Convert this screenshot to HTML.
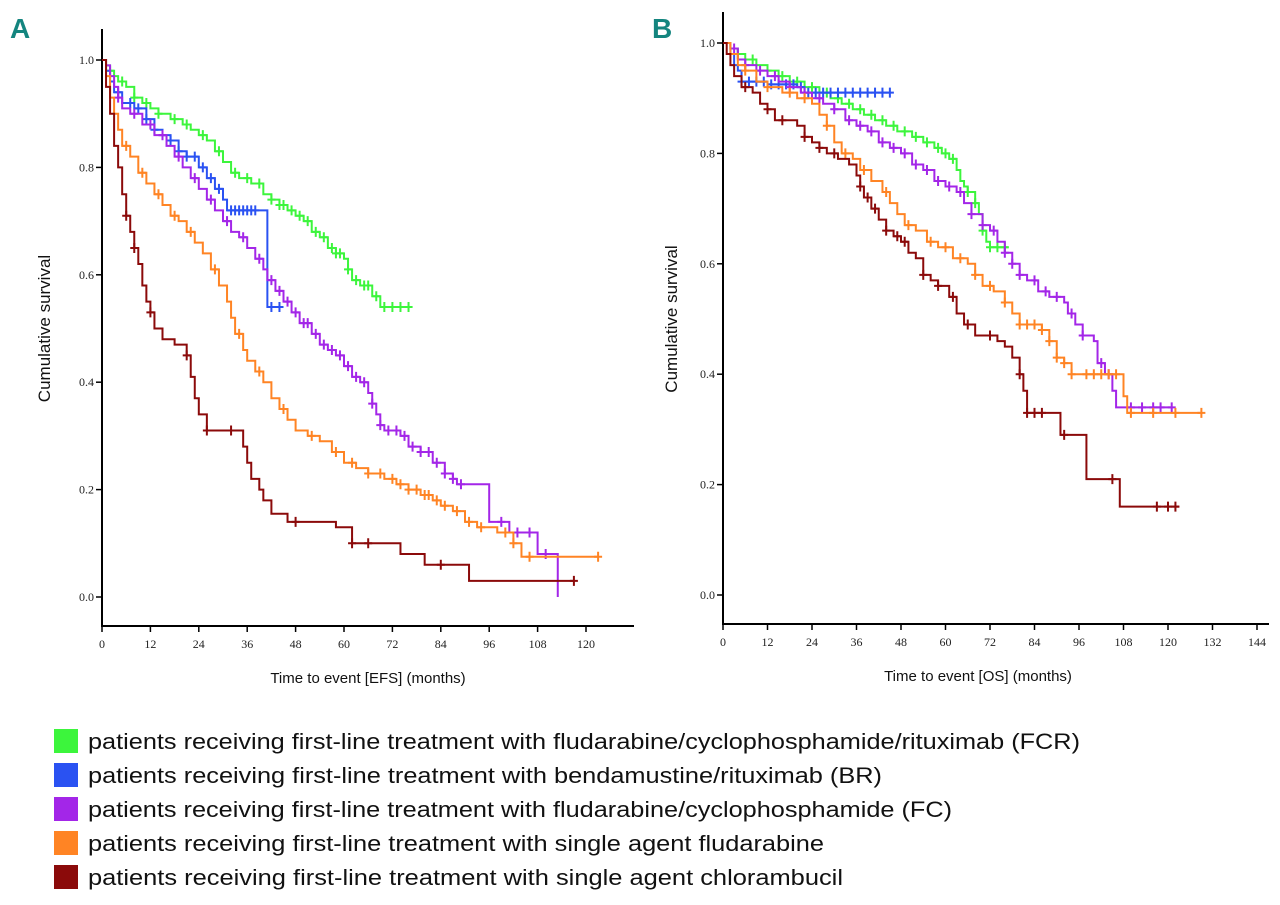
<!DOCTYPE html>
<html><head><meta charset="utf-8"><style>
html,body{margin:0;padding:0;background:#fff;}
svg{display:block;font-family:"Liberation Sans",sans-serif;}
</style></head><body>
<svg id="fig" width="1280" height="905" viewBox="0 0 1280 905" xmlns="http://www.w3.org/2000/svg">
<text x="10" y="38" font-size="28" font-weight="bold" fill="#14857f">A</text>
<text x="652" y="38" font-size="28" font-weight="bold" fill="#14857f">B</text>
<g id="pa"></g>
<g id="pb"></g>
<g font-size="22" fill="#111">
<g><rect x="54" y="729" width="24" height="24" fill="#3cf53c"/><text x="88" y="749" textLength="992" lengthAdjust="spacingAndGlyphs">patients receiving first-line treatment with fludarabine/cyclophosphamide/rituximab (FCR)</text></g>
<g><rect x="54" y="763" width="24" height="24" fill="#2a52f2"/><text x="88" y="783" textLength="794" lengthAdjust="spacingAndGlyphs">patients receiving first-line treatment with bendamustine/rituximab (BR)</text></g>
<g><rect x="54" y="797" width="24" height="24" fill="#a326e8"/><text x="88" y="817" textLength="864" lengthAdjust="spacingAndGlyphs">patients receiving first-line treatment with fludarabine/cyclophosphamide (FC)</text></g>
<g><rect x="54" y="831" width="24" height="24" fill="#ff8424"/><text x="88" y="851" textLength="736" lengthAdjust="spacingAndGlyphs">patients receiving first-line treatment with single agent fludarabine</text></g>
<g><rect x="54" y="865" width="24" height="24" fill="#8b0a0a"/><text x="88" y="885" textLength="755" lengthAdjust="spacingAndGlyphs">patients receiving first-line treatment with single agent chlorambucil</text></g>
</g>
</svg>
<script>
const seriesNames = ["fcr","br","fc","fludarabine","chlorambucil"];
const seriesColors = ["#3cf53c","#2a52f2","#a326e8","#ff8424","#8b0a0a"];
// Panel A (EFS)
const aFcrT=[0,1,2,3,4,6,8,10,12,14,17,20,22,24,26,28,30,32,34,37,40,42,44,46,48,50,52,54,56,58,60,61,62,64,67,69,77];
const aFcrS=[1,0.99,0.98,0.97,0.96,0.95,0.93,0.92,0.91,0.90,0.89,0.88,0.87,0.86,0.85,0.83,0.81,0.79,0.78,0.77,0.75,0.74,0.73,0.72,0.71,0.70,0.68,0.67,0.65,0.64,0.63,0.61,0.59,0.58,0.56,0.54,0.54];
const aBrT=[0,1,2,3,5,8,11,13,15,17,19,21,24,26,28,30,31,41,45];
const aBrS=[1,0.98,0.96,0.94,0.92,0.91,0.89,0.87,0.86,0.85,0.83,0.82,0.80,0.78,0.76,0.74,0.72,0.54,0.54];
const aFcT=[0,1,2,3,4,5,7,10,13,16,18,20,22,24,26,28,30,32,34,36,38,40,41,43,45,47,49,52,54,56,58,60,62,64,66,67,68,69,70,74,76,79,82,85,87,88,95,96,101,108,113,113];
const aFcS=[1,0.99,0.97,0.95,0.93,0.91,0.90,0.88,0.86,0.84,0.82,0.80,0.78,0.76,0.74,0.72,0.70,0.68,0.67,0.65,0.63,0.61,0.59,0.57,0.55,0.53,0.51,0.49,0.47,0.46,0.45,0.43,0.41,0.40,0.38,0.36,0.34,0.32,0.31,0.30,0.28,0.27,0.25,0.23,0.22,0.21,0.21,0.14,0.12,0.08,0.08,0.0];
const aFluT=[0,1,2,3,4,5,7,9,11,13,15,17,19,21,23,25,27,29,31,32,33,35,36,38,40,42,44,46,48,51,54,57,60,63,66,70,73,76,79,82,84,87,90,93,98,102,104,123];
const aFluS=[1,0.97,0.93,0.90,0.87,0.84,0.82,0.79,0.77,0.75,0.73,0.71,0.70,0.68,0.66,0.64,0.61,0.58,0.55,0.52,0.49,0.46,0.44,0.42,0.40,0.37,0.35,0.33,0.31,0.30,0.29,0.27,0.25,0.24,0.23,0.22,0.21,0.20,0.19,0.18,0.17,0.16,0.14,0.13,0.12,0.10,0.075,0.075];
const aChlT=[0,1,2,3,4,5,6,7,8,9,10,11,12,13,15,18,21,22,23,24,26,34,35,36,37,39,40,42,46,58,62,74,80,91,117];
const aChlS=[1,0.95,0.90,0.84,0.80,0.75,0.71,0.68,0.65,0.62,0.58,0.55,0.53,0.50,0.48,0.47,0.45,0.41,0.37,0.34,0.31,0.31,0.28,0.25,0.22,0.20,0.18,0.155,0.14,0.13,0.10,0.08,0.06,0.03,0.03];
const aFcrC=[2,5,8,11,14,18,21,25,29,33,36,39,42,44,45,47,49,51,53,55,57,58,59,61,63,65,66,68,70,72,74,76];
const aBrC=[4,7,9,11,13,15,17,19,21,23,25,27,29,32,33,34,35,36,37,38,42,44];
const aFcC=[4,8,12,15,19,23,27,31,35,39,42,44,46,48,50,51,53,55,57,59,61,63,65,67,69,71,73,75,77,79,81,83,85,87,89,99,103,106,110];
const aFluC=[6,10,14,18,22,28,34,39,45,52,58,62,66,69,72,74,76,78,80,81,83,85,88,91,94,100,102,106,123];
const aChlC=[6,8,12,21,26,32,48,62,66,84,117];
// Panel B (OS)
const bFcrT=[0,2,4,6,9,12,15,18,22,26,29,32,35,38,41,44,47,51,54,57,59,61,63,64,65,66,68,69,70,71,72,77];
const bFcrS=[1,0.99,0.98,0.97,0.96,0.95,0.94,0.93,0.92,0.91,0.90,0.89,0.88,0.87,0.86,0.85,0.84,0.83,0.82,0.81,0.80,0.79,0.77,0.75,0.74,0.73,0.71,0.69,0.66,0.64,0.63,0.63];
const bBrT=[0,2,3,4,5,12,20,22,45];
const bBrS=[1,0.98,0.96,0.95,0.93,0.925,0.92,0.91,0.91];
const bFcT=[0,2,4,6,9,12,15,18,21,24,27,30,33,36,39,42,45,48,51,54,57,60,63,65,67,70,72,74,76,78,80,82,85,88,92,93,95,97,100,101,103,105,106,121];
const bFcS=[1,0.99,0.97,0.96,0.95,0.94,0.93,0.92,0.91,0.90,0.89,0.88,0.86,0.85,0.84,0.82,0.81,0.80,0.78,0.77,0.75,0.74,0.73,0.71,0.69,0.67,0.66,0.64,0.62,0.60,0.58,0.57,0.55,0.54,0.53,0.51,0.49,0.47,0.46,0.42,0.40,0.37,0.34,0.34];
const bFluT=[0,2,4,6,9,12,16,20,24,26,28,30,32,35,37,40,43,45,47,49,52,55,58,62,66,68,70,73,76,78,80,86,88,90,92,94,107,108,109,129];
const bFluS=[1,0.98,0.96,0.95,0.93,0.92,0.91,0.90,0.89,0.87,0.85,0.82,0.80,0.79,0.77,0.75,0.73,0.71,0.69,0.67,0.66,0.64,0.63,0.61,0.60,0.58,0.56,0.55,0.53,0.51,0.49,0.48,0.46,0.43,0.42,0.40,0.40,0.36,0.33,0.33];
const bChlT=[0,1,2,3,5,8,10,12,14,20,22,24,26,28,31,34,36,37,38,40,42,44,46,48,50,52,54,56,58,61,63,65,68,74,76,78,80,81,82,91,97,98,106,107,123];
const bChlS=[1,0.98,0.96,0.94,0.92,0.91,0.89,0.88,0.86,0.85,0.83,0.82,0.81,0.80,0.79,0.78,0.76,0.74,0.72,0.70,0.68,0.66,0.65,0.64,0.62,0.61,0.58,0.57,0.56,0.54,0.51,0.49,0.47,0.46,0.45,0.43,0.40,0.37,0.33,0.29,0.29,0.21,0.21,0.16,0.16];
const bFcrC=[4,8,12,16,20,24,28,31,34,37,40,43,46,49,52,55,58,60,62,66,68,70,72,74,76];
const bBrC=[5,7,9,11,13,15,17,19,21,23,25,27,29,31,33,35,37,39,41,43,45];
const bFcC=[3,6,10,14,18,22,26,30,34,37,40,43,46,49,52,55,58,61,64,67,70,73,76,78,80,84,87,90,94,97,102,104,110,113,116,118,121];
const bFluC=[6,12,18,22,28,33,38,44,50,56,60,64,68,72,76,80,82,84,86,88,90,92,94,98,100,102,104,106,110,116,122,129];
const bChlC=[6,12,16,22,26,30,37,39,41,44,47,49,54,58,62,66,72,80,82,84,86,92,105,117,120,122];
const aTicks=[0,12,24,36,48,60,72,84,96,108,120];
const bTicks=[0,12,24,36,48,60,72,84,96,108,120,132,144];
const yTicks=[0,0.2,0.4,0.6,0.8,1.0];

const NS="http://www.w3.org/2000/svg";
function mk(tag,attrs,parent){const e=document.createElementNS(NS,tag);for(const k in attrs)e.setAttribute(k,attrs[k]);parent.appendChild(e);return e;}
function stepAt(T,S,t){let v=S[0];for(let i=0;i<T.length;i++){if(T[i]<=t)v=S[i];}return v;}

function panel(g,cfg){
  const xs=m=>cfg.x0+(m/cfg.xmax)*(cfg.x1-cfg.x0);
  const ys=s=>cfg.y0-s*(cfg.y0-cfg.y1);
  const ya=mk('line',{x1:cfg.x0,y1:cfg.top,x2:cfg.x0,y2:cfg.axY,stroke:'#000','stroke-width':2},g);
  
  
  const xa=mk('line',{x1:cfg.x0-1,y1:cfg.axY,x2:cfg.right,y2:cfg.axY,stroke:'#000','stroke-width':2},g);
  
  
  cfg.ticks.forEach(t=>{
    mk('line',{x1:xs(t),y1:cfg.axY,x2:xs(t),y2:cfg.axY+6,stroke:'#000','stroke-width':1.5},g);
    const tx=mk('text',{x:xs(t),y:cfg.axY+22,'font-size':12,'text-anchor':'middle',fill:'#222','font-family':'Liberation Serif, serif'},g);
    tx.textContent=t;
    
    
  });
  yTicks.forEach(v=>{
    mk('line',{x1:cfg.x0-6,y1:ys(v),x2:cfg.x0,y2:ys(v),stroke:'#000','stroke-width':1.5},g);
    const tx=mk('text',{x:cfg.x0-8,y:ys(v)+4,'font-size':12,'text-anchor':'end',fill:'#222','font-family':'Liberation Serif, serif'},g);
    tx.textContent=v.toFixed(1);
    
    
  });
  const yt=mk('text',{x:0,y:0,'font-size':17,'text-anchor':'middle',fill:'#111',transform:`translate(${cfg.ylx},${(cfg.y1+cfg.y0)/2}) rotate(-90)`},g);
  yt.textContent='Cumulative survival';
  
  
  const xt=mk('text',{x:cfg.xlx,y:cfg.axY+57,'font-size':15,'text-anchor':'middle',fill:'#111'},g);
  xt.textContent=cfg.xtitle;
  
  
  cfg.series.forEach((s,i)=>{
    const [T,S,C]=s;
    let d=`M${xs(T[0])},${ys(S[0])}`;
    for(let k=1;k<T.length;k++){d+=`H${xs(T[k])}V${ys(S[k])}`;}
    const p=mk('path',{d:d,fill:'none',stroke:seriesColors[i],'stroke-width':2},g);
    
    
    C.forEach(c=>{
      const x=xs(c),y=ys(stepAt(T,S,c));
      const m=mk('path',{d:`M${x},${y-5}V${y+5}M${x-4},${y}H${x+4}`,stroke:seriesColors[i],'stroke-width':2},g);
      
      
    });
  });
}
panel(document.getElementById('pa'),{x0:102,x1:586,xmax:120,y0:597,y1:60,top:29,axY:626,right:634,ticks:aTicks,ylx:50,xlx:368,xtitle:'Time to event [EFS] (months)',
  series:[[aFcrT,aFcrS,aFcrC],[aBrT,aBrS,aBrC],[aFcT,aFcS,aFcC],[aFluT,aFluS,aFluC],[aChlT,aChlS,aChlC]]});
panel(document.getElementById('pb'),{x0:723,x1:1257,xmax:144,y0:595,y1:43,top:12,axY:624,right:1269,ticks:bTicks,ylx:677,xlx:978,xtitle:'Time to event [OS] (months)',
  series:[[bFcrT,bFcrS,bFcrC],[bBrT,bBrS,bBrC],[bFcT,bFcS,bFcC],[bFluT,bFluS,bFluC],[bChlT,bChlS,bChlC]]});
</script>
</body></html>
